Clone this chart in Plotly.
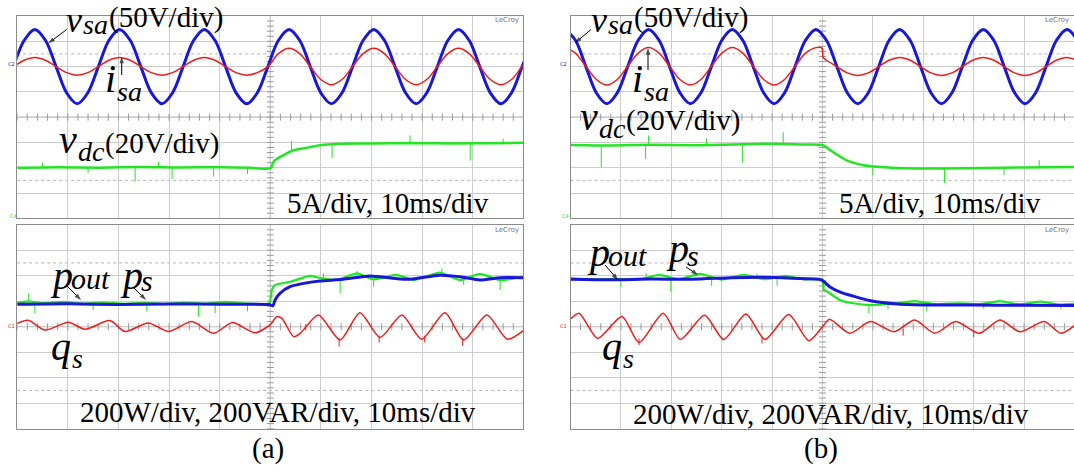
import plotly.graph_objects as go
import numpy as np

# ---------------- data (values read from the oscilloscope screens, in divisions; time in ms) -------------
# Panel (a) top screen: v_sa (blue), i_sa (red), sampled every 1/8 of a line period
T_A = [round(-0.7 + 2.0925 * i, 3) for i in range(50)]
VSA_A = [2.0, 3.04, 3.47, 3.04, 2.0, 0.96, 0.53, 0.96,
         2.0, 3.04, 3.47, 3.04, 2.0, 0.96, 0.53, 0.96,
         2.0, 3.04, 3.47, 3.04, 2.0, 0.96, 0.53, 0.96,
         2.0, 3.04, 3.47, 3.04, 2.0, 0.96, 0.53, 0.96,
         2.0, 3.04, 3.47, 3.04, 2.0, 0.96, 0.53, 0.96,
         2.0, 3.04, 3.47, 3.04, 2.0, 0.96, 0.53, 0.96,
         2.0, 3.04]
ISA_A = [2.0, 2.25, 2.36, 2.25, 2.0, 1.76, 1.66, 1.76,
         2.0, 2.25, 2.36, 2.25, 2.0, 1.76, 1.66, 1.76,
         2.0, 2.25, 2.36, 2.25, 2.0, 1.76, 1.66, 1.76,
         2.0, 2.51, 2.72, 2.51, 2.0, 1.49, 1.28, 1.49,
         2.0, 2.51, 2.72, 2.51, 2.0, 1.49, 1.28, 1.49,
         2.0, 2.51, 2.72, 2.51, 2.0, 1.49, 1.28, 1.49,
         2.0, 2.51]
# v_dc (green)
VDC_A_T = [0, 8, 16, 24, 32, 40, 46, 50, 50.8, 52.6, 54.6, 57.2, 59.8, 63.8, 70, 78, 86, 94, 100]
VDC_A = [-2.0, -1.98, -2.0, -1.97, -1.99, -1.98, -2.0, -2.02, -1.72, -1.5, -1.31, -1.21, -1.11,
         -1.05, -1.04, -1.02, -1.04, -1.03, -1.01]
VDC_A_SPK_T = [5.0, 14.0, 23.3, 27.9, 30.6, 38.8, 45.5, 54.2, 62.2, 77.6, 89.5, 96.0]
VDC_A_SPK_BASE = [-1.98, -2.0, -1.98, -1.98, -1.98, -1.98, -1.99, -1.3, -1.05, -1.02, -1.03, -1.03]
VDC_A_SPK_TIP = [-1.8, -2.2, -2.55, -1.75, -2.45, -2.35, -2.25, -0.94, -1.62, -0.72, -1.72, -0.85]

# Panel (a) bottom screen: p_out (blue), p_s (green), q_s (red)
POUT_A_T = [0, 10, 20, 30, 40, 49.8, 50.5, 51, 51.9, 53.9, 56.6, 59.8, 64.4, 69.7, 74.3, 77.6,
            83.5, 87.5, 91.4, 95.4, 100]
POUT_A = [0.88, 0.9, 0.87, 0.89, 0.88, 0.87, 0.82, 1.07, 1.31, 1.57, 1.70, 1.79, 1.86, 1.99,
          1.90, 1.86, 2.02, 1.96, 1.83, 1.92, 1.92]
PS_A_T = [0, 2.2, 5, 9, 13, 17, 21, 25, 29, 33, 37, 41, 45, 49.8, 50.3, 51, 53.9, 57.8, 59.8,
          63.1, 67.1, 70.4, 75, 78.3, 83.5, 87.5, 91.4, 95.4, 100]
PS_A = [0.93, 0.99, 0.92, 0.97, 0.9, 0.95, 0.9, 0.94, 0.89, 0.95, 0.9, 0.97, 0.91, 0.92, 1.44,
        1.64, 1.76, 1.99, 1.91, 1.83, 2.09, 1.86, 2.03, 1.83, 2.12, 1.83, 2.07, 1.83, 1.96]
PS_A_SPK_T = [2.2, 3.5, 15.0, 25.6, 35.8, 39.1, 45.5, 60.5, 63.8, 67.1, 70.4, 83.9, 88.2, 95.4]
PS_A_SPK_BASE = [0.95, 0.9, 0.9, 0.9, 0.9, 0.9, 0.9, 1.9, 1.85, 2.0, 1.87, 2.0, 1.88, 1.85]
PS_A_SPK_TIP = [1.31, 0.53, 0.65, 0.6, 0.39, 0.53, 0.6, 2.1, 1.31, 2.18, 1.57, 2.29, 1.64, 1.44]
QS_A_T = [0, 2.2, 5.5, 10.1, 13.4, 18.3, 21.3, 25.9, 29.9, 34.5, 38.8, 42.5, 47, 50, 51.3,
          52.3, 54.6, 55.9, 59.5, 63.8, 67.7, 71.7, 76, 79.9, 84.5, 88.2, 92.8, 96.8, 100]
QS_A = [0.13, 0.25, -0.13, 0.17, -0.1, 0.24, -0.19, 0.15, -0.19, 0.2, -0.26, 0.16, -0.24, 0.08,
        0.40, 0.33, -0.39, -0.26, 0.46, -0.52, 0.55, -0.42, 0.46, -0.49, 0.55, -0.52, 0.46,
        -0.49, -0.15]
QS_A_SPK_T = [57.0, 63.6, 71.5, 88.0, 80.5]
QS_A_SPK_BASE = [0.1, -0.45, -0.35, -0.45, -0.35]
QS_A_SPK_TIP = [-0.15, -0.78, -0.62, -0.76, -0.62]

# Panel (b) top screen
T_B = [round(-1.1 + 2.075 * i, 3) for i in range(50)]
VSA_B = [3.47, 3.04, 2.0, 0.96, 0.53, 0.96, 2.0, 3.04,
         3.47, 3.04, 2.0, 0.96, 0.53, 0.96, 2.0, 3.04,
         3.47, 3.04, 2.0, 0.96, 0.53, 0.96, 2.0, 3.04,
         3.47, 3.04, 2.0, 0.96, 0.53, 0.96, 2.0, 3.04,
         3.47, 3.04, 2.0, 0.96, 0.53, 0.96, 2.0, 3.04,
         3.47, 3.04, 2.0, 0.96, 0.53, 0.96, 2.0, 3.04,
         3.47, 3.04]
ISA_B_T = T_B[:25] + [49.9, 50.1] + T_B[25:]
ISA_B = [2.75, 2.53, 2.01, 1.49, 1.27, 1.49, 2.01, 2.53,
         2.75, 2.53, 2.01, 1.49, 1.27, 1.49, 2.01, 2.53,
         2.75, 2.53, 2.01, 1.49, 1.27, 1.49, 2.01, 2.53,
         2.75, 2.73, 2.36,
         2.25, 2.0, 1.75, 1.65, 1.75, 2.0, 2.25, 2.36,
         2.25, 2.0, 1.75, 1.65, 1.75, 2.0, 2.25, 2.36,
         2.25, 2.0, 1.75, 1.65, 1.75, 2.0, 2.25, 2.36,
         2.25]
VDC_B_T = [0, 8, 16, 24, 32, 40.5, 46, 50, 52, 54.7, 58.1, 61.5, 66, 74, 82, 90, 100]
VDC_B = [-1.10, -1.12, -1.09, -1.11, -1.08, -1.05, -1.08, -1.10, -1.37, -1.70, -1.90, -1.97,
         -2.02, -2.03, -2.01, -1.99, -1.97]
VDC_B_SPK_T = [6.1, 14.9, 15.5, 27.0, 34.1, 42.2, 60.0, 74.2, 86.0, 93.0]
VDC_B_SPK_BASE = [-1.1, -1.1, -1.1, -1.1, -1.08, -1.06, -1.98, -2.02, -2.0, -1.99]
VDC_B_SPK_TIP = [-1.98, -1.65, -0.72, -0.85, -1.8, -0.6, -2.3, -2.6, -2.3, -1.7]

# Panel (b) bottom screen
POUT_B_T = [0, 8, 16, 24, 32, 38, 44, 49.8, 51.4, 53.4, 56.1, 59.5, 64.9, 71.7, 80, 90, 100]
POUT_B = [1.86, 1.84, 1.87, 1.86, 1.92, 1.94, 1.90, 1.84, 1.57, 1.37, 1.20, 1.02, 0.89, 0.85,
          0.85, 0.84, 0.83]
PS_B_T = [0, 4, 9, 13.5, 17.6, 21.5, 25.7, 30, 34.4, 38.5, 42.6, 46.5, 49.9, 50.3, 51, 53.4,
          56.1, 59.5, 64, 68.3, 72.5, 77, 81, 85.2, 89, 93.3, 97, 100]
PS_B = [1.90, 1.86, 1.88, 1.85, 2.03, 1.86, 2.07, 1.85, 2.03, 1.86, 1.99, 1.85, 1.86, 1.44, 1.37,
        1.05, 0.92, 0.85, 0.9, 1.0, 0.88, 0.92, 0.88, 1.0, 0.88, 0.98, 0.87, 0.9]
PS_B_SPK_T = [10.0, 15.0, 19.9, 28.0, 37.0, 41.0, 59.2, 63.0, 70.7, 82.0, 97.3]
PS_B_SPK_BASE = [1.88, 1.86, 1.9, 1.9, 1.9, 1.9, 0.85, 0.9, 0.9, 0.88, 0.88]
PS_B_SPK_TIP = [1.55, 2.1, 1.37, 1.6, 2.08, 1.6, 0.53, 0.7, 0.6, 0.7, 0.7]
QS_B_T = [0, 1.7, 5.4, 10.2, 13.6, 18.4, 21.8, 26.6, 30.4, 34.8, 38.6, 43.3, 47.3, 50, 51.4,
          55.4, 59.5, 64.2, 68.3, 72.3, 76.4, 81.1, 85.2, 89.2, 94, 97.3, 100]
QS_B = [0.3, 0.53, -0.46, 0.40, -0.62, 0.53, -0.5, 0.45, -0.5, 0.5, -0.5, 0.48, -0.55, 0.0, 0.29,
        -0.26, 0.2, -0.2, 0.26, -0.26, 0.2, -0.26, 0.26, -0.2, 0.2, -0.26, 0.04]
QS_B_SPK_T = [13.6, 38.0, 66.0, 80.0]
QS_B_SPK_BASE = [-0.45, -0.4, -0.1, -0.15]
QS_B_SPK_TIP = [-0.72, -0.65, -0.35, -0.4]

# ---------------- styling / layout -------------------------------------------------------------
W, H = 1074, 476
BLUE, RED, GREEN = "#1818d8", "#ee1c1c", "#22e622"
GRID, BORDER, CENTER = "#cdcdcd", "#8c8c8c", "#9a9a9a"
SERIF = "Liberation Serif"


def px(x):
    return x / W


def py(y):
    return 1 - y / H


# screens: (x0, x1, y0, y1) in pixels, with x-range end
SCREENS = {
    1: (17.2, 523.4, 16.0, 218.3, 100.0),     # (a) top
    2: (17.2, 523.4, 224.7, 428.7, 100.0),    # (a) bottom
    3: (570.5, 1074.0, 16.0, 218.3, 99.9),    # (b) top
    4: (570.5, 1074.0, 224.7, 428.7, 99.9),   # (b) bottom
}

fig = go.Figure()
layout = dict(width=W, height=H, margin=dict(l=0, r=0, t=0, b=0),
              paper_bgcolor="white", plot_bgcolor="rgba(0,0,0,0)", showlegend=False)
shapes = []
for k, (x0, x1, y0, y1, xr) in SCREENS.items():
    sx = "" if k == 1 else str(k)
    layout["xaxis" + sx] = dict(domain=[px(x0), min(1.0, px(x1))], range=[0, xr], dtick=10, tick0=0,
                                showgrid=True, gridcolor=GRID, gridwidth=1, zeroline=False,
                                showticklabels=False, ticks="", showline=True, linecolor=BORDER,
                                linewidth=1, mirror=True, anchor="y" + sx, fixedrange=True)
    layout["yaxis" + sx] = dict(domain=[py(y1), py(y0)], range=[-4, 4], dtick=1, tick0=0,
                                showgrid=True, gridcolor=GRID, gridwidth=1, zeroline=False,
                                showticklabels=False, ticks="", showline=True, linecolor=BORDER,
                                linewidth=1, mirror=True, anchor="x" + sx, fixedrange=True)
    xr_, yr_ = "x" + sx, "y" + sx
    shapes.append(dict(type="line", xref=xr_, yref=yr_, x0=50, x1=50, y0=-4, y1=4,
                       line=dict(color=CENTER, width=1), layer="below"))
    shapes.append(dict(type="line", xref=xr_, yref=yr_, x0=0, x1=xr, y0=0, y1=0,
                       line=dict(color=CENTER, width=1), layer="below"))
    for yy in (2.5, -2.5):
        shapes.append(dict(type="line", xref=xr_, yref=yr_, x0=0, x1=xr, y0=yy, y1=yy,
                           line=dict(color="#b4b4b4", width=1, dash="dot"), layer="below"))
    # minor ticks on the centre cross
    tx = list(np.arange(0, 100.01, 2.0))
    ty = list(np.arange(-4, 4.01, 0.2))
    fig.add_trace(go.Scatter(x=tx + [50] * len(ty), y=[0] * len(tx) + ty, mode="markers",
                             marker=dict(symbol=["line-ns"] * len(tx) + ["line-ew"] * len(ty),
                                         size=5, line=dict(width=1, color=CENTER)),
                             xaxis=xr_, yaxis=yr_, hoverinfo="skip"))
# overlay axis in page pixels (for the label arrows)
layout["xaxis5"] = dict(domain=[0, 1], range=[0, W], visible=False, fixedrange=True, anchor="y5")
layout["yaxis5"] = dict(domain=[0, 1], range=[H, 0], visible=False, fixedrange=True, anchor="x5")
layout["shapes"] = shapes


def line(xs, ys, color, width, k, shape="spline", smoothing=1.0):
    sx = "" if k == 1 else str(k)
    ln = dict(color=color, width=width, shape=shape)
    if shape == "spline":
        ln["smoothing"] = smoothing
    fig.add_trace(go.Scatter(x=xs, y=ys, mode="lines", line=ln, xaxis="x" + sx, yaxis="y" + sx,
                             hoverinfo="skip"))


def spikes(ts, bases, tips, color, k):
    xs, ys = [], []
    for t, b, p in zip(ts, bases, tips):
        xs += [t, t, None]
        ys += [b, p, None]
    line(xs, ys, color, 1, k, shape="linear")


# (a) top
line(T_A, VSA_A, BLUE, 3, 1)
line(T_A, ISA_A, RED, 1.5, 1)
line(VDC_A_T, VDC_A, GREEN, 2.5, 1, smoothing=0.6)
spikes(VDC_A_SPK_T, VDC_A_SPK_BASE, VDC_A_SPK_TIP, GREEN, 1)
# (a) bottom
line(PS_A_T, PS_A, GREEN, 2.2, 2, smoothing=0.5)
spikes(PS_A_SPK_T, PS_A_SPK_BASE, PS_A_SPK_TIP, GREEN, 2)
line(POUT_A_T, POUT_A, BLUE, 3, 2, smoothing=0.6)
line(QS_A_T, QS_A, RED, 1.5, 2, smoothing=0.7)
spikes(QS_A_SPK_T, QS_A_SPK_BASE, QS_A_SPK_TIP, RED, 2)
# (b) top
line(T_B, VSA_B, BLUE, 3, 3)
line(ISA_B_T, ISA_B, RED, 1.5, 3, smoothing=0.8)
line(VDC_B_T, VDC_B, GREEN, 2.5, 3, smoothing=0.6)
spikes(VDC_B_SPK_T, VDC_B_SPK_BASE, VDC_B_SPK_TIP, GREEN, 3)
# (b) bottom
line(PS_B_T, PS_B, GREEN, 2.2, 4, smoothing=0.5)
spikes(PS_B_SPK_T, PS_B_SPK_BASE, PS_B_SPK_TIP, GREEN, 4)
line(POUT_B_T, POUT_B, BLUE, 3, 4, smoothing=0.6)
line(QS_B_T, QS_B, RED, 1.5, 4, smoothing=0.7)
spikes(QS_B_SPK_T, QS_B_SPK_BASE, QS_B_SPK_TIP, RED, 4)

# trigger markers under the centre line
for k, col in ((1, GREEN), (2, RED), (3, GREEN), (4, RED)):
    sx = "" if k == 1 else str(k)
    fig.add_trace(go.Scatter(x=[50], y=[-4.12], mode="markers", cliponaxis=False,
                             marker=dict(symbol="triangle-up", size=6, color=col),
                             xaxis="x" + sx, yaxis="y" + sx, hoverinfo="skip"))


def arrow(tx, ty, hx, hy):
    fig.add_trace(go.Scatter(x=[tx, hx], y=[ty, hy], mode="lines+markers", cliponaxis=False,
                             line=dict(color="black", width=1),
                             marker=dict(symbol="arrow", size=[0, 7], color="black",
                                         angleref="previous", line=dict(width=0)),
                             xaxis="x5", yaxis="y5", hoverinfo="skip"))


ann = []
ASC = 0.3375   # (ascent - descent) / 2 of Liberation Serif: box centre above the baseline, per px of size


def txt(s, x, baseline, size, xanchor="left", color="black", family=SERIF):
    ann.append(dict(text=s, x=px(x), y=py(baseline - ASC * size), xref="paper", yref="paper",
                    showarrow=False, xanchor=xanchor, yanchor="middle",
                    font=dict(family=family, size=size, color=color), borderpad=0))


# advance widths (em) of the Times-metric glyphs used in the labels
ADV_I = {"v": 0.444, "i": 0.278, "p": 0.5, "q": 0.5, "s": 0.389, "a": 0.5, "d": 0.5, "c": 0.444,
         "o": 0.5, "u": 0.5, "t": 0.278}


def label(x, parts):
    # parts: (text, size, baseline, italic); pieces are laid side by side without overlap
    for text, size, base, ital in parts:
        s = "<i>%s</i>" % text if ital else text
        txt(s, x, base, size)
        if ital:
            x += sum(ADV_I[c] for c in text) * size + 1


BIG, SUBS, FLAT, LAB = 40, 28, 30, 29

# ---- (a)
label(65, [("v", 36, 32.3, True), ("sa", SUBS, 34, True), ("(50V/div)", LAB, 27, False)])
arrow(66.7, 29.5, 48.3, 43.3)
label(104, [("i", BIG, 92, True), ("sa", SUBS, 101, True)])
arrow(121.7, 75, 121.7, 56.7)
label(58, [("v", BIG, 153, True), ("dc", SUBS, 161, True), ("(20V/div)", LAB, 153, False)])
txt("5A/div, 10ms/div", 286, 213, LAB)
label(49, [("p", BIG, 289, True), ("out", FLAT, 289, True)])
arrow(67, 286, 81, 300)
label(119, [("p", BIG, 289, True), ("s", FLAT, 291, True)])
arrow(133, 287, 146, 300)
label(50, [("q", BIG, 360, True), ("s", SUBS, 368, True)])
txt("200W/div, 200VAR/div, 10ms/div", 79, 422, LAB)
txt("(a)", 268, 458, LAB, xanchor="center")
# ---- (b)
label(590, [("v", 36, 32.3, True), ("sa", SUBS, 34, True), ("(50V/div)", LAB, 27, False)])
arrow(591, 29.5, 575, 43)
label(631, [("i", BIG, 92, True), ("sa", SUBS, 101, True)])
arrow(648, 70, 648, 48)
label(579, [("v", BIG, 130, True), ("dc", SUBS, 138, True), ("(20V/div)", LAB, 130, False)])
txt("5A/div, 10ms/div", 838, 213, LAB)
label(586, [("p", BIG, 266, True), ("out", FLAT, 266, True)])
arrow(605, 265, 618, 280)
label(665, [("p", BIG, 262, True), ("s", FLAT, 266, True)])
arrow(686, 267, 698, 275)
label(601, [("q", BIG, 360, True), ("s", SUBS, 368, True)])
txt("200W/div, 200VAR/div, 10ms/div", 632, 424, LAB)
txt("(b)", 821, 458, LAB, xanchor="center")

# LeCroy tags and channel markers
for xr_edge, base in ((520, 22), (520, 232), (1070, 22), (1070, 232)):
    txt("LeCroy", xr_edge, base, 7, xanchor="right", color="#777777", family="DejaVu Sans")
for xl in (11, 563):
    txt("C2", xl, 66, 5, xanchor="center", color=BLUE, family="DejaVu Sans")
    txt("C4", xl + 2, 218, 5, xanchor="center", color=GREEN, family="DejaVu Sans")
    txt("C1", xl, 328, 5, xanchor="center", color=RED, family="DejaVu Sans")

layout["annotations"] = ann
fig.update_layout(**layout)
fig.write_html("out.html", config={"displayModeBar": False},
               post_script="document.body.style.margin='0px';document.body.style.overflow='hidden';")
